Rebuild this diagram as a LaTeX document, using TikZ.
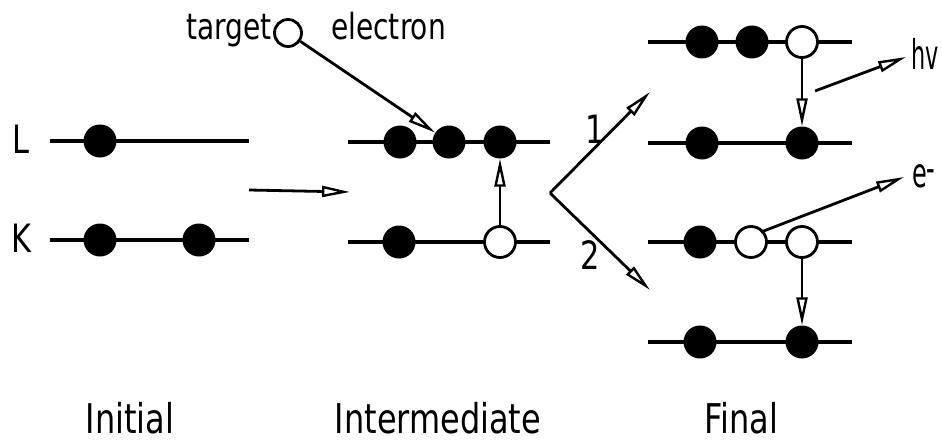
\documentclass[tikz,border=0pt]{standalone}
\usepackage{fontspec}
\setmainfont[FakeStretch=0.78]{DejaVu Sans}
\usetikzlibrary{arrows.meta}
\begin{document}
\begin{tikzpicture}[x=1pt,y=-1pt,
  level/.style={line width=3.2pt},
  full/.style={circle,fill=black,minimum size=33pt,inner sep=0pt},
  hole/.style={circle,draw=black,fill=white,line width=2.8pt,minimum size=31pt,inner sep=0pt},
  arr/.style={line width=2.8pt,-{Triangle[open,length=28pt,width=11pt,line width=2.4pt]}},
  big/.style={font=\fontsize{41}{43}\selectfont,inner sep=0pt,anchor=base},
  mid/.style={font=\fontsize{39}{41}\selectfont,inner sep=0pt,anchor=base},
  small/.style={font=\fontsize{36}{38}\selectfont,inner sep=0pt,anchor=base}]
\useasboundingbox (0,0) rectangle (942,444);
% ---------- Initial ----------
\coordinate (iLa) at (50,141); \coordinate (iLb) at (249,141);
\coordinate (iKa) at (50,240); \coordinate (iKb) at (249,240);
\draw[level] (iLa) -- (iLb);
\draw[level] (iKa) -- (iKb);
\node[full] (i1) at (100,141) {};
\node[full] (i2) at (100,240) {};
\node[full] (i3) at (199,240) {};
\node[mid] (lL) at (21,153) {L};
\node[mid] (lK) at (21,252) {K};
\coordinate (a1s) at (249,190); \coordinate (a1e) at (350,192);
\draw[arr] (a1s) -- (a1e);
% ---------- Intermediate ----------
\coordinate (mLa) at (348,142); \coordinate (mLb) at (550,142);
\coordinate (mKa) at (348,242); \coordinate (mKb) at (550,242);
\draw[level] (mLa) -- (mLb);
\draw[level] (mKa) -- (mKb);
\node[full] (m1) at (400,142) {};
\node[full] (m2) at (449,142) {};
\node[full] (m3) at (500,142) {};
\node[full] (m4) at (399,242) {};
\node[hole] (m5) at (500,242) {};
\draw[arr] (m5) -- (m3);
\node[hole,minimum size=27pt] (tgt) at (288,33) {};
\node[small,anchor=base east] (ttxt) at (272,40) {target};
\node[small,anchor=base west] (etxt) at (331,40) {electron};
\draw[arr] (tgt) -- (m2);
% ---------- branch ----------
\coordinate (v) at (550,193);
\coordinate (b1) at (650,92);
\coordinate (b2) at (650,290);
\draw[arr] (v) -- (b1);
\draw[arr] (v) -- (b2);
\node[mid] (n1) at (595,143) {1};
\node[mid] (n2) at (590,269) {2};
% ---------- Final, radiative ----------
\coordinate (fAa) at (648,42); \coordinate (fAb) at (852,42);
\coordinate (fBa) at (648,143); \coordinate (fBb) at (852,143);
\draw[level] (fAa) -- (fAb);
\draw[level] (fBa) -- (fBb);
\node[full] (f1) at (702,42) {};
\node[full] (f2) at (752,42) {};
\node[hole] (f3) at (802,42) {};
\node[full] (f4) at (702,143) {};
\node[full] (f5) at (802,143) {};
\draw[arr] (f3) -- (f5);
\coordinate (hs) at (815,91); \coordinate (he) at (906,57);
\draw[arr] (hs) -- (he);
\node[big,anchor=base west] (hv) at (911,70) {\scalebox{0.7}[1]{hv}};
% ---------- Final, Auger ----------
\coordinate (fCa) at (648,242); \coordinate (fCb) at (852,242);
\coordinate (fDa) at (648,342); \coordinate (fDb) at (852,342);
\draw[level] (fCa) -- (fCb);
\draw[level] (fDa) -- (fDb);
\node[full] (g1) at (700,242) {};
\node[hole] (g2) at (751,242) {};
\node[hole] (g3) at (802,242) {};
\node[full] (g4) at (700,342) {};
\node[full] (g5) at (802,342) {};
\draw[arr] (g3) -- (g5);
\coordinate (ee) at (904,177);
\draw[arr] (g2.north east) ++(-2,2) -- (ee);
\node[big,anchor=base west] (em) at (912,187) {\scalebox{0.75}[1]{e\raisebox{5pt}{-}}};
% ---------- captions ----------
\node[big] (c1) at (130,433) {Initial};
\node[big] (c2) at (438,433) {Intermediate};
\node[big] (c3) at (741,433) {Final};
\end{tikzpicture}
\end{document}
